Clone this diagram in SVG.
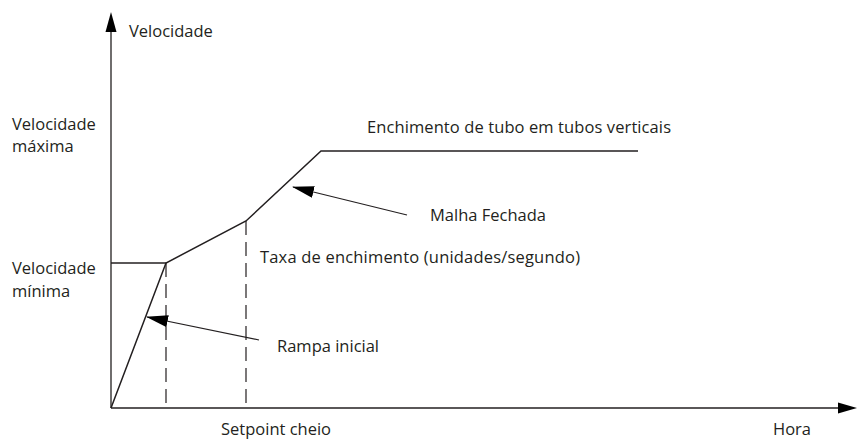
<svg xmlns="http://www.w3.org/2000/svg" width="858" height="439" viewBox="0 0 858 439">
<style>
text{font-family:"Open Sans","Liberation Sans",Arial,sans-serif;font-size:16.5px;fill:#231f20}
.ln{stroke:#231f20;stroke-width:1.5;fill:none}
.ax{stroke:#231f20;stroke-width:1.3;fill:none}
.ds{stroke:#231f20;stroke-width:1.2;fill:none;stroke-dasharray:14 7}
.ar{stroke:#231f20;stroke-width:1.2;fill:none}
</style>
<defs>
<marker id="ah" markerWidth="22" markerHeight="12" refX="21" refY="6" orient="auto" markerUnits="userSpaceOnUse">
<path d="M0,0 L22,6 L0,12 z" fill="#000"/>
</marker>
</defs>
<rect width="858" height="439" fill="#fff"/>
<g id="axes">
<line class="ax" x1="111" y1="408" x2="111" y2="30"/>
<path d="M105.5,32 L111,12 L116.5,32 z" fill="#000"/>
<line class="ax" x1="111" y1="408" x2="840" y2="408"/>
<path d="M838,402.5 L857,408 L838,413.5 z" fill="#000"/>
</g>
<g id="connectors">
<polyline class="ln" points="111,263 166,263"/>
<polyline class="ln" points="111,408 166,263 246,221 321,151 638,151"/>
<line class="ds" x1="166" y1="263" x2="166" y2="408"/>
<line class="ds" x1="246" y1="221" x2="246" y2="408"/>
<line class="ar" x1="407" y1="215" x2="293" y2="187" marker-end="url(#ah)"/>
<line class="ar" x1="259" y1="340" x2="147" y2="317" marker-end="url(#ah)"/>
</g>
<g id="labels">
<text x="129" y="37">Velocidade</text>
<text x="12" y="130">Velocidade</text>
<text x="12" y="152">máxima</text>
<text x="12" y="274">Velocidade</text>
<text x="12" y="297">mínima</text>
<text x="367" y="133" textLength="304">Enchimento de tubo em tubos verticais</text>
<text x="430" y="221">Malha Fechada</text>
<text x="260" y="263" textLength="320">Taxa de enchimento (unidades/segundo)</text>
<text x="277" y="352">Rampa inicial</text>
<text x="221" y="435">Setpoint cheio</text>
<text x="773" y="435">Hora</text>
</g>
</svg>
